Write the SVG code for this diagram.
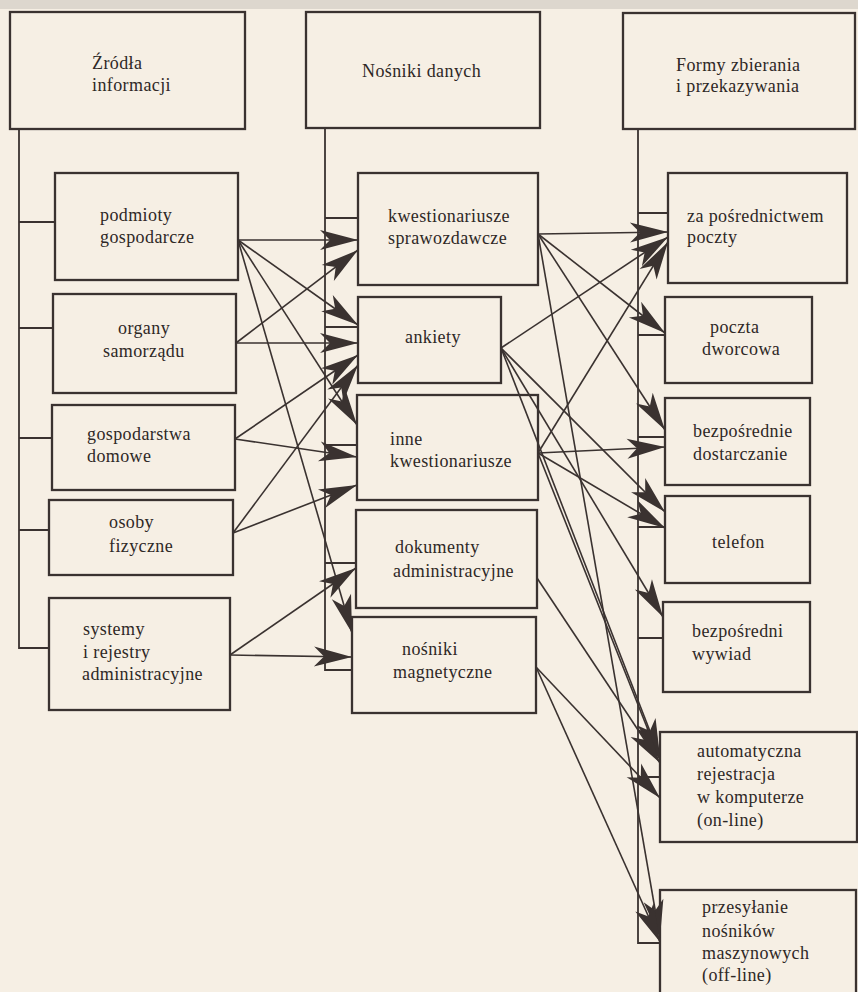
<svg xmlns="http://www.w3.org/2000/svg" width="858" height="992" viewBox="0 0 858 992">
<style>
.bg{fill:#f6efe4}
.box{fill:none;stroke:#3a3230;stroke-width:2.3}
.tree{fill:none;stroke:#3a3230;stroke-width:1.8}
.con{fill:none;stroke:#3a3230;stroke-width:1.6;marker-end:url(#ah)}
text{font-family:"Liberation Serif","Times New Roman",serif;font-size:18px;fill:#2e2826;letter-spacing:0.4px}
</style>
<defs>
<marker id="ah" markerUnits="userSpaceOnUse" viewBox="-40 -12 42 24" refX="0" refY="0" markerWidth="42" markerHeight="24" orient="auto">
<path d="M0,0 L-38,-10 L-28,0 L-38,10 Z" fill="#3a3230"/>
</marker>
</defs>
<rect class="bg" x="0" y="0" width="858" height="992"/>
<rect x="0" y="0" width="858" height="9" fill="#ddd7ce"/>

<g id="trees">
<path class="tree" d="M19,129 V648 H49 M19,222 H55 M19,328 H53 M19,438 H52 M19,530 H49"/>
<path class="tree" d="M325,128 V670 H352 M325,218 H358 M325,327 H358 M325,445 H357 M325,563 H356"/>
<path class="tree" d="M638,129 V943 H660 M638,213 H668 M638,335 H665 M638,437 H665 M638,527 H665 M638,638 H663 M638,777 H660"/>
</g>

<g id="zrodla"><rect class="box" x="10" y="12" width="235" height="117"/><text x="92" y="69">Źródła</text><text x="92" y="91">informacji</text></g>
<g id="nosniki-danych"><rect class="box" x="306" y="12" width="234" height="116"/><text x="362" y="77">Nośniki danych</text></g>
<g id="formy"><rect class="box" x="623" y="13" width="232" height="116"/><text x="676" y="71">Formy zbierania</text><text x="676" y="92">i przekazywania</text></g>

<g id="podmioty"><rect class="box" x="55" y="173" width="183" height="107"/><text x="100" y="221">podmioty</text><text x="100" y="243">gospodarcze</text></g>
<g id="organy"><rect class="box" x="53" y="294" width="183" height="99"/><text x="118" y="334">organy</text><text x="103" y="357">samorządu</text></g>
<g id="gospodarstwa"><rect class="box" x="52" y="405" width="183" height="85"/><text x="87" y="440">gospodarstwa</text><text x="87" y="462">domowe</text></g>
<g id="osoby"><rect class="box" x="49" y="500" width="184" height="75"/><text x="109" y="528">osoby</text><text x="109" y="552">fizyczne</text></g>
<g id="systemy"><rect class="box" x="49" y="598" width="181" height="112"/><text x="83" y="635">systemy</text><text x="83" y="658">i rejestry</text><text x="82" y="680">administracyjne</text></g>

<g id="kwest-spraw"><rect class="box" x="358" y="173" width="180" height="112"/><text x="388" y="222">kwestionariusze</text><text x="388" y="244">sprawozdawcze</text></g>
<g id="ankiety"><rect class="box" x="358" y="297" width="143" height="86"/><text x="405" y="343">ankiety</text></g>
<g id="inne"><rect class="box" x="357" y="395" width="181" height="105"/><text x="390" y="445">inne</text><text x="390" y="467">kwestionariusze</text></g>
<g id="dokumenty"><rect class="box" x="356" y="510" width="181" height="98"/><text x="395" y="553">dokumenty</text><text x="393" y="577">administracyjne</text></g>
<g id="nosniki-mag"><rect class="box" x="352" y="617" width="184" height="96"/><text x="402" y="655">nośniki</text><text x="393" y="678">magnetyczne</text></g>

<g id="poczta"><rect class="box" x="668" y="173" width="179" height="110"/><text x="687" y="222">za pośrednictwem</text><text x="687" y="243">poczty</text></g>
<g id="dworcowa"><rect class="box" x="665" y="297" width="147" height="86"/><text x="710" y="333">poczta</text><text x="702" y="355">dworcowa</text></g>
<g id="dostarczanie"><rect class="box" x="665" y="398" width="145" height="87"/><text x="693" y="437">bezpośrednie</text><text x="693" y="460">dostarczanie</text></g>
<g id="telefon"><rect class="box" x="665" y="496" width="145" height="87"/><text x="712" y="548">telefon</text></g>
<g id="wywiad"><rect class="box" x="663" y="602" width="147" height="90"/><text x="692" y="637">bezpośredni</text><text x="692" y="660">wywiad</text></g>
<g id="online"><rect class="box" x="660" y="732" width="197" height="110"/><text x="697" y="757">automatyczna</text><text x="697" y="780">rejestracja</text><text x="697" y="803">w komputerze</text><text x="697" y="826">(on-line)</text></g>
<g id="offline"><rect class="box" x="660" y="890" width="196" height="110"/><text x="702" y="913">przesyłanie</text><text x="702" y="937">nośników</text><text x="702" y="959">maszynowych</text><text x="702" y="981">(off-line)</text></g>

<g id="connectors">
<line class="con" x1="238" y1="240" x2="358" y2="240"/>
<line class="con" x1="238" y1="240" x2="358" y2="325"/>
<line class="con" x1="238" y1="240" x2="357" y2="425"/>
<line class="con" x1="238" y1="240" x2="352" y2="633"/>
<line class="con" x1="236" y1="343" x2="358" y2="250"/>
<line class="con" x1="236" y1="343" x2="358" y2="343"/>
<line class="con" x1="235" y1="439" x2="358" y2="355"/>
<line class="con" x1="235" y1="439" x2="357" y2="457"/>
<line class="con" x1="233" y1="533" x2="358" y2="365"/>
<line class="con" x1="233" y1="533" x2="357" y2="485"/>
<line class="con" x1="230" y1="655" x2="356" y2="568"/>
<line class="con" x1="230" y1="655" x2="352" y2="657"/>

<line class="con" x1="538" y1="234" x2="668" y2="232"/>
<line class="con" x1="538" y1="234" x2="665" y2="333"/>
<line class="con" x1="538" y1="234" x2="665" y2="430"/>
<line class="con" x1="538" y1="234" x2="660" y2="938"/>
<line class="con" x1="501" y1="348" x2="668" y2="237"/>
<line class="con" x1="501" y1="348" x2="665" y2="512"/>
<line class="con" x1="501" y1="348" x2="663" y2="617"/>
<line class="con" x1="501" y1="348" x2="660" y2="757"/>
<line class="con" x1="538" y1="453" x2="668" y2="242"/>
<line class="con" x1="538" y1="453" x2="665" y2="447"/>
<line class="con" x1="538" y1="453" x2="665" y2="528"/>
<line class="con" x1="538" y1="453" x2="660" y2="760"/>
<line class="con" x1="537" y1="578" x2="660" y2="763"/>
<line class="con" x1="536" y1="667" x2="660" y2="798"/>
<line class="con" x1="536" y1="667" x2="660" y2="942"/>
</g>
</svg>
